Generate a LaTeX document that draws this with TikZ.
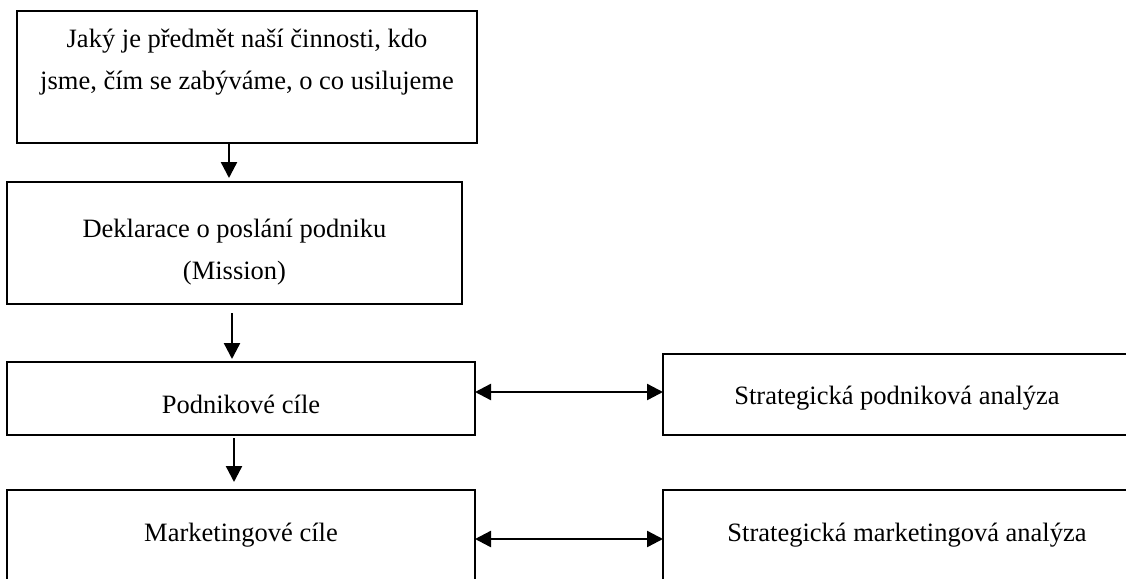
\documentclass[tikz,border=0pt]{standalone}
\usepackage{fontspec}
\setmainfont{Liberation Serif}
\usetikzlibrary{arrows.meta,positioning}

\begin{document}
\begin{tikzpicture}[x=1pt,y=-1pt,
  box/.style={draw=black,line width=2.4pt,align=center,inner sep=0pt,outer sep=0pt,
    font=\fontsize{26.5}{42}\selectfont},
  lbox/.style={box,anchor=north west,minimum width=468pt},
  arr/.style={-{Triangle[length=16pt,width=16pt]},line width=2.4pt,draw=black},
  darr/.style={{Triangle[length=16pt,width=16pt]}-{Triangle[length=16pt,width=16pt]},line width=2.4pt,draw=black}
]
  \useasboundingbox (0,0) rectangle (1126,578);

  % Mission
  \node[box,anchor=north west,minimum width=460pt,minimum height=132pt] (otazka) at (17,11)
    {Jaký je předmět naší činnosti, kdo\\jsme, čím se zabýváme, o co usilujeme\rule[-36pt]{0pt}{0pt}};
  \node[box,anchor=north west,minimum width=455pt,minimum height=122pt] (mise) at (7,182)
    {\rule{0pt}{36pt}Deklarace o poslání podniku\\(Mission)};
  \draw[arr,shorten >=4pt] ([xshift=-18pt]otazka.south) -- ([xshift=-18pt]otazka.south |- mise.north);

  % Podnikove cile
  \node[lbox,minimum height=73pt] (pcile) at (7,362) {\rule{0pt}{31pt}Podnikové cíle};
  \node[box,right=188pt of pcile,yshift=4pt,minimum width=468pt,minimum height=81pt] (pan)
    {\rule{0pt}{25pt}Strategická podniková analýza};
  \draw[arr,shorten <=9pt,shorten >=3pt] ([xshift=-2.5pt]mise.south) -- ([xshift=-2.5pt]mise.south |- pcile.north);
  \draw[darr] ([yshift=6.5pt]pcile.east) -- ([yshift=6.5pt]pcile.east -| pan.west);

  % Marketingove cile
  \node[lbox,minimum height=90pt] (mcile) at (7,490) {Marketingové cíle};
  \node[box,right=188pt of mcile,minimum width=488pt,minimum height=90pt] (man) {Strategická marketingová analýza};
  \draw[arr,shorten <=3pt,shorten >=8pt] ([xshift=-7pt]pcile.south) -- ([xshift=-7pt]pcile.south |- mcile.north);
  \draw[darr] ([yshift=-4pt]mcile.east) -- ([yshift=-4pt]mcile.east -| man.west);
\end{tikzpicture}
\end{document}
